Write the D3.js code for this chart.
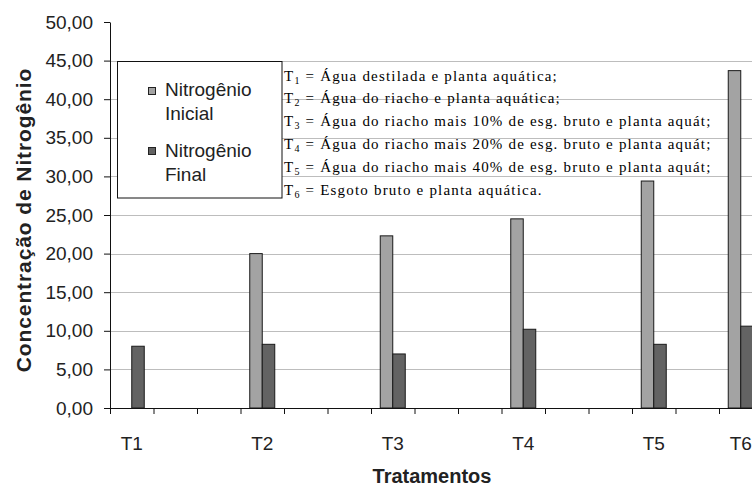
<!DOCTYPE html>
<html>
<head>
<meta charset="utf-8">
<script src="https://cdn.jsdelivr.net/npm/d3@7"></script>
<style>
  html, body { margin: 0; padding: 0; background: #fff; }
  svg { display: block; }
  .sans { font-family: "Liberation Sans", Arial, sans-serif; }
  .serif { font-family: "Liberation Serif", "Times New Roman", serif; }
</style>
</head>
<body>
<svg id="chart" width="752" height="488"></svg>
<script>
// Treatment slots (blank slots keep the spacing between treatments)
const categories = ["T1", "", "", "T2", "", "", "T3", "", "", "T4", "", "", "T5", "", "T6"];
const nitrogenioInicial = [0, null, null, 20.0, null, null, 22.3, null, null, 24.5, null, null, 29.4, null, 43.7];
const nitrogenioFinal   = [8.0, null, null, 8.25, null, null, 7.0, null, null, 10.2, null, null, 8.25, null, 10.6];
const seriesNames = ["Nitrogênio Inicial", "Nitrogênio Final"];
const legendLines = [["Nitrogênio", "Inicial"], ["Nitrogênio", "Final"]];
const yTicks = [0, 5, 10, 15, 20, 25, 30, 35, 40, 45, 50];
const treatmentNotes = [
  ["1", " = Água destilada e planta aquática;"],
  ["2", " = Água do riacho e planta aquática;"],
  ["3", " = Água do riacho mais 10% de esg. bruto e planta aquát;"],
  ["4", " = Água do riacho mais 20% de esg. bruto e planta aquát;"],
  ["5", " = Água do riacho mais 40% de esg. bruto e planta aquát;"],
  ["6", " = Esgoto bruto e planta aquática."]
];
const yTitle = "Concentração de Nitrogênio";
const xTitle = "Tratamentos";

const colors = { "Nitrogênio Inicial": "#a3a3a3", "Nitrogênio Final": "#636363" };

const svg = d3.select("#chart");
const plot = { left: 110, right: 762.5, top: 22, bottom: 408 };

const slots = categories.map((c, i) => i);
const x = d3.scaleBand().domain(slots).range([plot.left, plot.right]).padding(0);
const xSeries = d3.scaleBand().domain(seriesNames).range([0, x.bandwidth()]).paddingInner(0).paddingOuter(0.74);
const y = d3.scaleLinear().domain([0, 50]).range([plot.bottom, plot.top]);

const ptBR = d3.formatLocale({ decimal: ",", thousands: ".", grouping: [3], currency: ["R$", ""] });
const fmt = ptBR.format(".2f");

// Horizontal gridlines
svg.append("g")
  .selectAll("line")
  .data(yTicks.filter(v => v > 0 && v < 50))
  .join("line")
  .attr("x1", plot.left).attr("x2", plot.right)
  .attr("y1", d => Math.round(y(d)) + 0.5).attr("y2", d => Math.round(y(d)) + 0.5)
  .attr("stroke", "#bdbdbd").attr("stroke-width", 1.2);

// Bars
const rows = categories.map((c, i) => ({ i, values: [nitrogenioInicial[i], nitrogenioFinal[i]] }));
svg.append("g")
  .selectAll("g")
  .data(rows)
  .join("g")
  .attr("transform", d => `translate(${x(d.i)},0)`)
  .selectAll("rect")
  .data(d => seriesNames.map((s, k) => ({ s, v: d.values[k] })).filter(e => e.v !== null && e.v > 0))
  .join("rect")
  .attr("x", e => xSeries(e.s))
  .attr("width", xSeries.bandwidth())
  .attr("y", e => y(e.v))
  .attr("height", e => y(0) - y(e.v))
  .attr("fill", e => colors[e.s])
  .attr("stroke", "#1a1a1a").attr("stroke-width", 1);

// Y axis
const yAxis = svg.append("g")
  .attr("class", "sans")
  .attr("transform", `translate(${plot.left},0)`)
  .call(d3.axisLeft(y).tickValues(yTicks).tickSize(6).tickSizeOuter(0).tickPadding(11).tickFormat(fmt));
yAxis.selectAll("text").attr("font-size", 19).attr("fill", "#222");

// X axis: tick marks on slot boundaries
const xEdges = d3.scaleLinear().domain([0, categories.length]).range([plot.left, plot.right]);
svg.append("g")
  .attr("transform", `translate(0,${plot.bottom})`)
  .call(d3.axisBottom(xEdges).tickValues(d3.range(categories.length + 1)).tickSize(6).tickSizeOuter(0).tickFormat(""));

// X axis: treatment labels at slot centres
const xLabels = svg.append("g")
  .attr("class", "sans")
  .attr("transform", `translate(0,${plot.bottom})`)
  .call(d3.axisBottom(x).tickSize(0).tickPadding(29).tickFormat(i => categories[i]));
xLabels.select(".domain").remove();
xLabels.selectAll("text").attr("font-size", 19).attr("fill", "#222");

svg.selectAll(".domain, .tick line").attr("stroke", "#111");

// Axis titles
svg.append("text")
  .attr("class", "sans")
  .attr("transform", `translate(31,${(plot.top + plot.bottom) / 2 + 5}) rotate(-90)`)
  .attr("text-anchor", "middle")
  .attr("font-size", 21).attr("font-weight", "bold").attr("letter-spacing", 0.9)
  .attr("fill", "#222")
  .text(yTitle);

svg.append("text")
  .attr("class", "sans")
  .attr("x", 432).attr("y", 483)
  .attr("text-anchor", "middle")
  .attr("font-size", 20).attr("font-weight", "bold")
  .attr("fill", "#222")
  .text(xTitle);

// Legend
const legend = svg.append("g").attr("class", "sans");
legend.append("rect")
  .attr("x", 117.5).attr("y", 61.5).attr("width", 164.5).attr("height", 136.5)
  .attr("fill", "#fff").attr("stroke", "#111").attr("stroke-width", 1);
seriesNames.forEach((s, k) => {
  const top = 87 + k * 60;
  legend.append("rect")
    .attr("x", 148.5).attr("y", top + 0.5).attr("width", 7).attr("height", 7)
    .attr("fill", colors[s]).attr("stroke", "#222");
  legend.append("text")
    .attr("x", 165).attr("y", top + 9 + k)
    .attr("font-size", 19).attr("fill", "#222")
    .selectAll("tspan")
    .data(legendLines[k])
    .join("tspan")
    .attr("x", 165)
    .attr("dy", (d, j) => j === 0 ? 0 : 23.5)
    .text(d => d);
});

// Treatment key
const notes = svg.append("g").attr("class", "serif").attr("fill", "#000");
treatmentNotes.forEach((n, k) => {
  const t = notes.append("text")
    .attr("x", 284).attr("y", 80.5 + k * 22.8)
    .attr("font-size", 15).attr("letter-spacing", 1.2);
  t.append("tspan").text("T");
  t.append("tspan").attr("font-size", 10).attr("dy", 3).text(n[0]);
  t.append("tspan").attr("dy", -3).text(n[1]);
});
</script>
</body>
</html>
